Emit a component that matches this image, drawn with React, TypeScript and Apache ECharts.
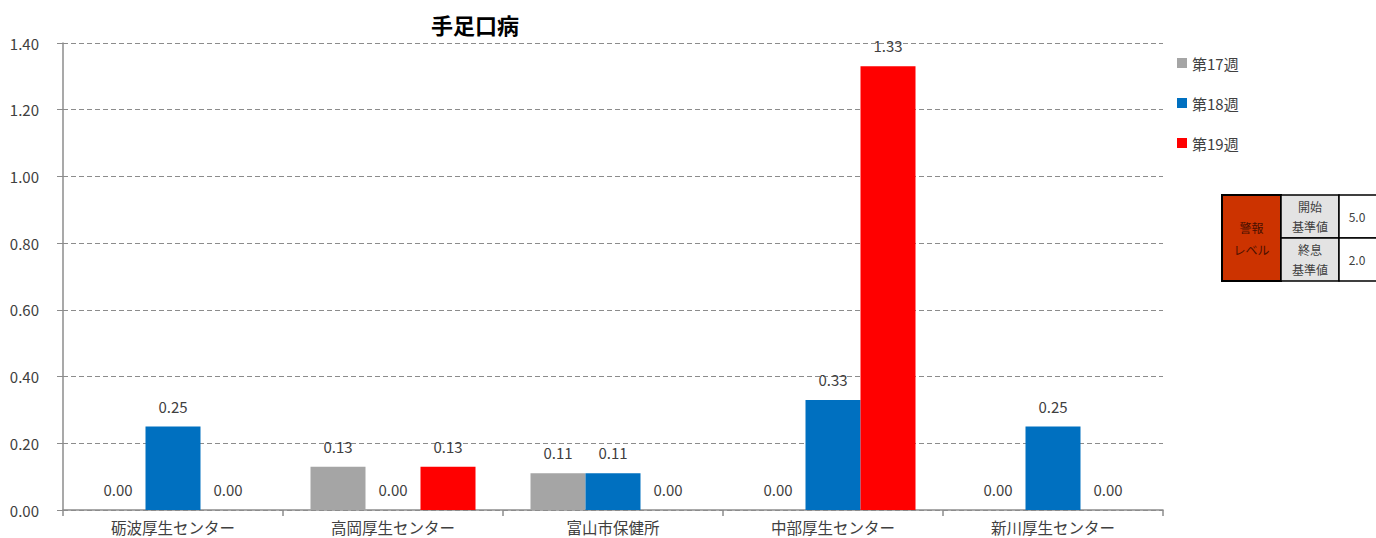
import React, { useEffect, useRef } from "react";
import * as echarts from "echarts";

const categories = ["砺波厚生センター", "高岡厚生センター", "富山市保健所", "中部厚生センター", "新川厚生センター"];
const seriesNames = ["第17週", "第18週", "第19週"];
const week17 = [0.0, 0.13, 0.11, 0.0, 0.0];
const week18 = [0.25, 0.0, 0.11, 0.33, 0.25];
const week19 = [0.0, 0.13, 0.0, 1.33, 0.0];
const colors = ["#A5A5A5", "#0070C0", "#FF0000"];
const tableRows = [
  { label: "開始\n基準値", value: "5.0" },
  { label: "終息\n基準値", value: "2.0" },
];

const FONT = "'Noto Sans CJK JP', 'Noto Sans', sans-serif";

export default function App() {
  const ref = useRef<HTMLDivElement>(null);
  useEffect(() => {
    document.body.style.margin = "0";
    const chart = echarts.init(ref.current!, null, { renderer: "svg" });
    const data = [week17, week18, week19];
    const tx = 1222, ty = 195, w1 = 59, w2 = 58, w3 = 40, rh = 43;
    const graphics: any[] = [
      { type: "rect", shape: { x: tx, y: ty, width: w1, height: rh * 2 }, style: { fill: "#CC3300", stroke: "#000", lineWidth: 2 } },
      { type: "text", x: tx + w1 / 2, y: ty + rh, style: { text: "警報\nレベル", fill: "#4a1000", font: `12px ${FONT}`, align: "center", verticalAlign: "middle", lineHeight: 22 } },
    ];
    tableRows.forEach((r, i) => {
      graphics.push(
        { type: "rect", shape: { x: tx + w1, y: ty + i * rh, width: w2, height: rh }, style: { fill: "#E3E3E3", stroke: "#000", lineWidth: 1.5 } },
        { type: "text", x: tx + w1 + w2 / 2, y: ty + i * rh + rh / 2, style: { text: r.label, fill: "#404040", font: `12px ${FONT}`, align: "center", verticalAlign: "middle", lineHeight: 20 } },
        { type: "rect", shape: { x: tx + w1 + w2, y: ty + i * rh, width: w3, height: rh }, style: { fill: "#fff", stroke: "#000", lineWidth: 1.5 } },
        { type: "text", x: tx + w1 + w2 + w3 / 2 - 2, y: ty + i * rh + rh / 2, style: { text: r.value, fill: "#404040", font: `12px ${FONT}`, align: "center", verticalAlign: "middle" } }
      );
    });
    chart.setOption({
      animation: false,
      color: colors,
      title: {
        text: "手足口病",
        left: 470,
        top: 8,
        textAlign: "center",
        textStyle: { fontFamily: FONT, fontSize: 22, fontWeight: "bold", color: "#000" },
      },
      legend: {
        orient: "vertical",
        left: 1172,
        top: 47,
        itemGap: 18,
        itemWidth: 10,
        itemHeight: 10,
        icon: "rect",
        textStyle: { fontFamily: FONT, fontSize: 15, color: "#404040", lineHeight: 22, height: 22 },
        data: seriesNames,
      },
      grid: { left: 63, right: 213, top: 43, bottom: 28 },
      xAxis: {
        type: "category",
        data: categories,
        axisLine: { lineStyle: { color: "#8c8c8c", width: 1.5 } },
        axisTick: { show: true, length: 6, lineStyle: { color: "#8c8c8c", width: 1.5 } },
        axisLabel: { fontFamily: FONT, fontSize: 15.5, color: "#404040", margin: 8, lineHeight: 17 },
      },
      yAxis: {
        type: "value",
        min: 0,
        max: 1.4,
        interval: 0.2,
        axisLine: { show: true, lineStyle: { color: "#8c8c8c", width: 1.5 } },
        axisTick: { show: true, length: 6, inside: false, lineStyle: { color: "#8c8c8c" } },
        axisLabel: { fontFamily: FONT, fontSize: 15, color: "#404040", margin: 24, formatter: (v: number) => v.toFixed(2) },
        splitLine: { lineStyle: { color: "#8c8c8c", type: [5, 3] } },
      },
      series: seriesNames.map((n, i) => ({
        name: n,
        type: "bar",
        data: data[i],
        barGap: "0%",
        barCategoryGap: "25%",
        label: {
          show: true,
          position: "top",
          distance: 13,
          fontFamily: FONT,
          fontSize: 15,
          color: "#404040",
          formatter: (p: any) => p.value.toFixed(2),
        },
      })),
      graphic: graphics,
    });
    return () => chart.dispose();
  }, []);
  return <div ref={ref} style={{ width: 1376, height: 538 }} />;
}
